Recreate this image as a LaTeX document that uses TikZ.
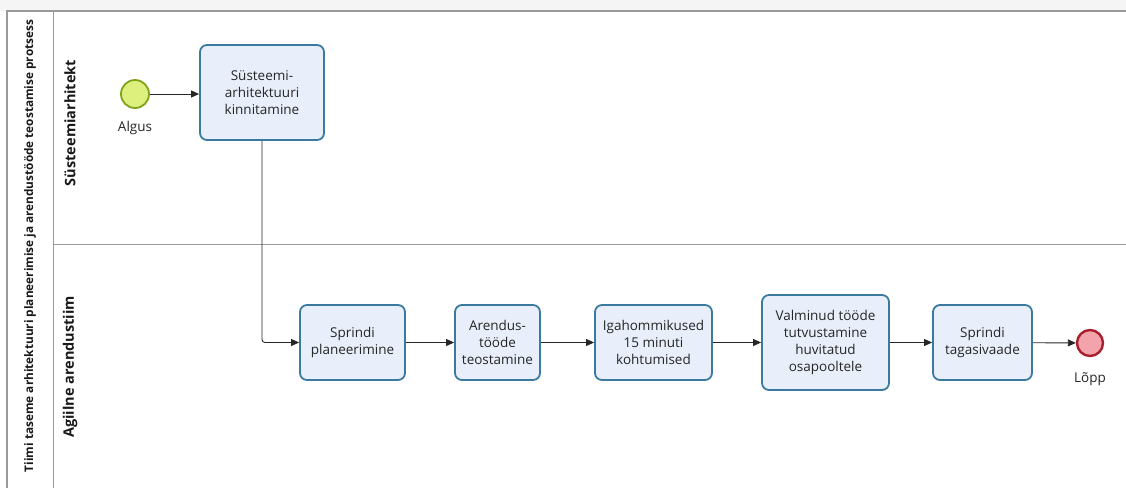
\documentclass[tikz,border=0pt]{standalone}
\usepackage{fontspec}
\setmainfont{Open Sans}
\usetikzlibrary{arrows.meta}
\definecolor{taskfill}{HTML}{E8EFFA}
\definecolor{taskdraw}{HTML}{3B7A9E}
\definecolor{startfill}{HTML}{DDF07E}
\definecolor{startdraw}{HTML}{7FA318}
\definecolor{endfill}{HTML}{F2A3AB}
\definecolor{enddraw}{HTML}{A8202E}
\definecolor{poolline}{HTML}{9A9A9A}
\tikzset{
  task/.style={draw=taskdraw, fill=taskfill, line width=1.8pt, rounded corners=7pt,
    align=center, inner sep=1pt, font=\fontsize{13.5}{16.8}\selectfont, text=black!85},
  flow/.style={draw=black!85, line width=0.9pt, -{Triangle[length=8pt,width=7pt]}},
  lbl/.style={font=\fontsize{13.5}{16}\selectfont, text=black!85},
  lane/.style={font=\bfseries\fontsize{14.5}{16}\selectfont, rotate=90, text=black!90},
}
\begin{document}
\begin{tikzpicture}[x=1pt,y=-1pt]
\useasboundingbox (0,0) rectangle (1126,488);
\fill[black!4] (0,0) rectangle (1126,11);
% pool frame
\draw[poolline, line width=1.2pt] (7,488) -- (7,11) -- (1126,11);
\draw[poolline, line width=0.8pt] (53,11) -- (53,488);
\draw[poolline, line width=0.8pt] (53,244) -- (1126,244);
% labels
\node[rotate=90, font=\bfseries\fontsize{11.8}{13}\selectfont, text=black!90] (pool) at (30,246) {Tiimi taseme arhitektuuri planeerimise ja arendustööde teostamise protsess};
\node[lane] (lane1) at (70,123) {Süsteemiarhitekt};
\node[lane] (lane2) at (70,367) {Agiilne arendustiim};
% events
\node[circle, draw=startdraw, fill=startfill, line width=1.8pt, minimum size=28pt, inner sep=0pt] (start) at (135,94) {};
\node[lbl] (startl) at (135,128) {Algus};
\node[circle, draw=enddraw, fill=endfill, line width=2.4pt, minimum size=26pt, inner sep=0pt] (end) at (1090,343) {};
\node[lbl] (endl) at (1090,379) {Lõpp};
% tasks
\node[task, minimum width=124pt, minimum height=95pt] (t1) at (262,92.5) {Süsteemi-\\arhitektuuri\\kinnitamine};
\node[task, minimum width=105pt, minimum height=75pt] (t2) at (352.5,342.5) {Sprindi\\planeerimine};
\node[task, minimum width=85pt, minimum height=75pt] (t3) at (497.5,342.5) {Arendus-\\tööde\\teostamine};
\node[task, minimum width=117pt, minimum height=75pt] (t4) at (653.5,342.5) {Igahommikused\\15 minuti\\kohtumised};
\node[task, minimum width=127pt, minimum height=95pt] (t5) at (825.5,342.5) {Valminud tööde\\tutvustamine\\huvitatud\\osapooltele};
\node[task, minimum width=99pt, minimum height=75pt] (t6) at (982.5,342.5) {Sprindi\\tagasivaade};
% flows
\draw[flow] (start) -- (t1.west |- start);
\draw[flow, rounded corners=3pt] (t1.south) |- (t2.west);
\draw[flow] (t2) -- (t3);
\draw[flow] (t3) -- (t4);
\draw[flow] (t4) -- (t5);
\draw[flow] (t5) -- (t6);
\draw[flow] (t6) -- (end);
\end{tikzpicture}
\end{document}
